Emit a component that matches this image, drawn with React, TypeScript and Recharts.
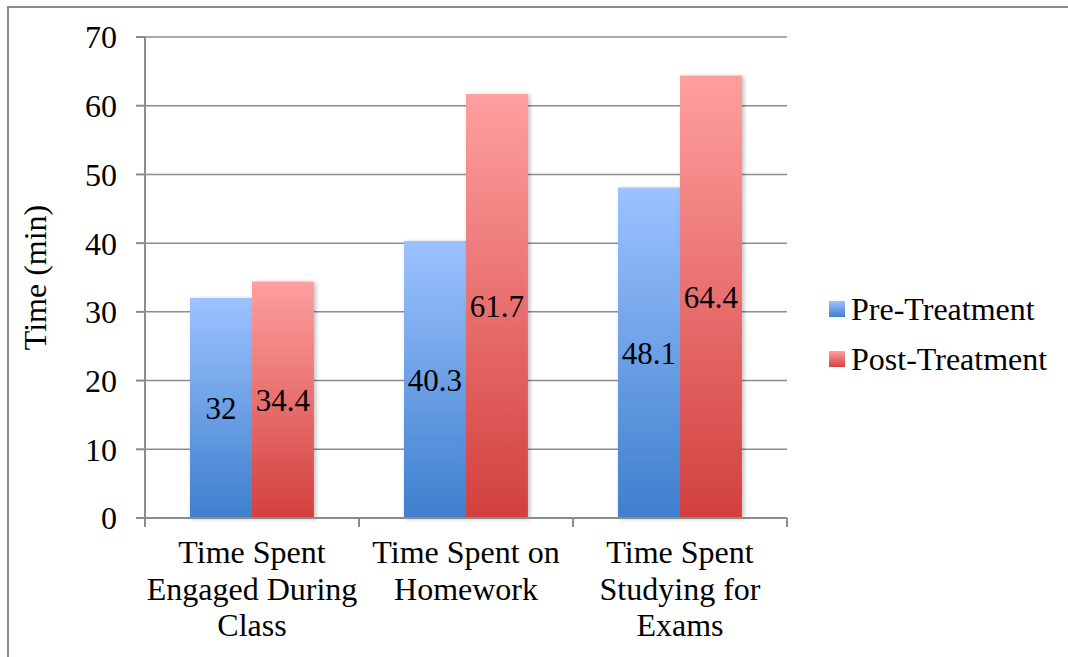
import React from 'react';
import { BarChart, Bar, XAxis, YAxis, CartesianGrid, LabelList } from 'recharts';

const categories = ['Time Spent\nEngaged During\nClass', 'Time Spent on\nHomework', 'Time Spent\nStudying for\nExams'];
const preTreatment = [32, 40.3, 48.1];
const postTreatment = [34.4, 61.7, 64.4];
const yTicks = [0, 10, 20, 30, 40, 50, 60, 70];
const seriesNames = ['Pre-Treatment', 'Post-Treatment'];

const data = categories.map((c, i) => ({ name: c, pre: preTreatment[i], post: postTreatment[i] }));

const FONT = '"Liberation Serif", "Times New Roman", Times, serif';
const GRID = '#8c8c8c';
const txt = { fontFamily: FONT, fontSize: 32, fill: '#000' };
const valTxt = { fontFamily: FONT, fontSize: 31, fill: '#000' };
const X_TICK = 9;

const XTick = (props: any) => {
  const { x, y, payload, width, visibleTicksCount } = props;
  const half = width / (visibleTicksCount || 1) / 2;
  const lines = String(payload.value).split('\n');
  return (
    <g>
      <line x1={x - half} x2={x - half} y1={y - X_TICK} y2={y} stroke={GRID} strokeWidth={2} />
      <line x1={x + half} x2={x + half} y1={y - X_TICK} y2={y} stroke={GRID} strokeWidth={2} />
      <text x={x} y={y} textAnchor="middle" style={txt}>
        {lines.map((l, i) => (
          <tspan key={i} x={x} dy={i === 0 ? 36 : 36.5}>{l}</tspan>
        ))}
      </text>
    </g>
  );
};

const YLabel = (props: any) => {
  const { viewBox } = props;
  const cy = viewBox.y + viewBox.height / 2;
  const cx = 35;
  return (
    <text x={cx} y={cy} transform={`rotate(-90 ${cx} ${cy})`} textAnchor="middle" dominantBaseline="central" style={txt}>
      Time (min)
    </text>
  );
};

export default function App() {
  return (
    <div style={{ position: 'absolute', left: 0, top: 0, width: 1068, height: 657, background: '#fff', overflow: 'hidden', fontFamily: FONT }}>
      <div style={{ position: 'absolute', left: 7, top: 6, width: 1100, height: 700, border: `2px solid ${GRID}`, boxSizing: 'border-box' }} />
      <div style={{ position: 'absolute', left: 0, top: 0 }}>
        <BarChart width={1068} height={657} data={data} margin={{ top: 37, right: 281, left: 0, bottom: 0 }} barCategoryGap="21%" barGap={0} style={{ fontFamily: FONT }}>
          <defs>
            <linearGradient id="gBlue" x1="0" y1="0" x2="0" y2="1">
              <stop offset="0%" stopColor="#9cc2ff" />
              <stop offset="100%" stopColor="#3e7fcd" />
            </linearGradient>
            <linearGradient id="gRed" x1="0" y1="0" x2="0" y2="1">
              <stop offset="0%" stopColor="#ff9f9f" />
              <stop offset="100%" stopColor="#d2403e" />
            </linearGradient>
            <filter id="shadow" x="-10%" y="-10%" width="130%" height="120%">
              <feDropShadow dx="2" dy="1" stdDeviation="2" floodColor="#000" floodOpacity="0.25" />
            </filter>
          </defs>
          <CartesianGrid vertical={false} stroke={GRID} strokeWidth={1.5} />
          <XAxis
            dataKey="name"
            height={139}
            interval={0}
            tick={<XTick />}
            tickLine={false}
            tickSize={X_TICK}
            tickMargin={0}
            axisLine={{ stroke: GRID, strokeWidth: 2 }}
          />
          <YAxis
            width={145}
            domain={[0, 70]}
            ticks={yTicks}
            tickSize={9}
            tickMargin={19}
            tick={{ style: txt, fontFamily: FONT, fontSize: 32, fill: '#000' }}
            axisLine={{ stroke: GRID, strokeWidth: 2 }}
            tickLine={{ stroke: GRID, strokeWidth: 2 }}
            label={<YLabel />}
          />
          <Bar dataKey="pre" name={seriesNames[0]} fill="url(#gBlue)" isAnimationActive={false} filter="url(#shadow)">
            <LabelList dataKey="pre" position="center" style={valTxt} />
          </Bar>
          <Bar dataKey="post" name={seriesNames[1]} fill="url(#gRed)" isAnimationActive={false} filter="url(#shadow)">
            <LabelList dataKey="post" position="center" style={valTxt} />
          </Bar>
        </BarChart>
      </div>
      <div style={{ position: 'absolute', left: 829, top: 284, fontFamily: FONT, fontSize: 32, color: '#000', whiteSpace: 'nowrap' }}>
        {seriesNames.map((n, i) => (
          <div key={n} style={{ display: 'flex', alignItems: 'center', height: 50 }}>
            <span style={{ display: 'inline-block', width: 16, height: 16, marginRight: 6, background: i === 0 ? 'linear-gradient(#9cc2ff,#4080cf)' : 'linear-gradient(#ffa0a0,#d24241)' }} />
            <span>{n}</span>
          </div>
        ))}
      </div>
    </div>
  );
}
